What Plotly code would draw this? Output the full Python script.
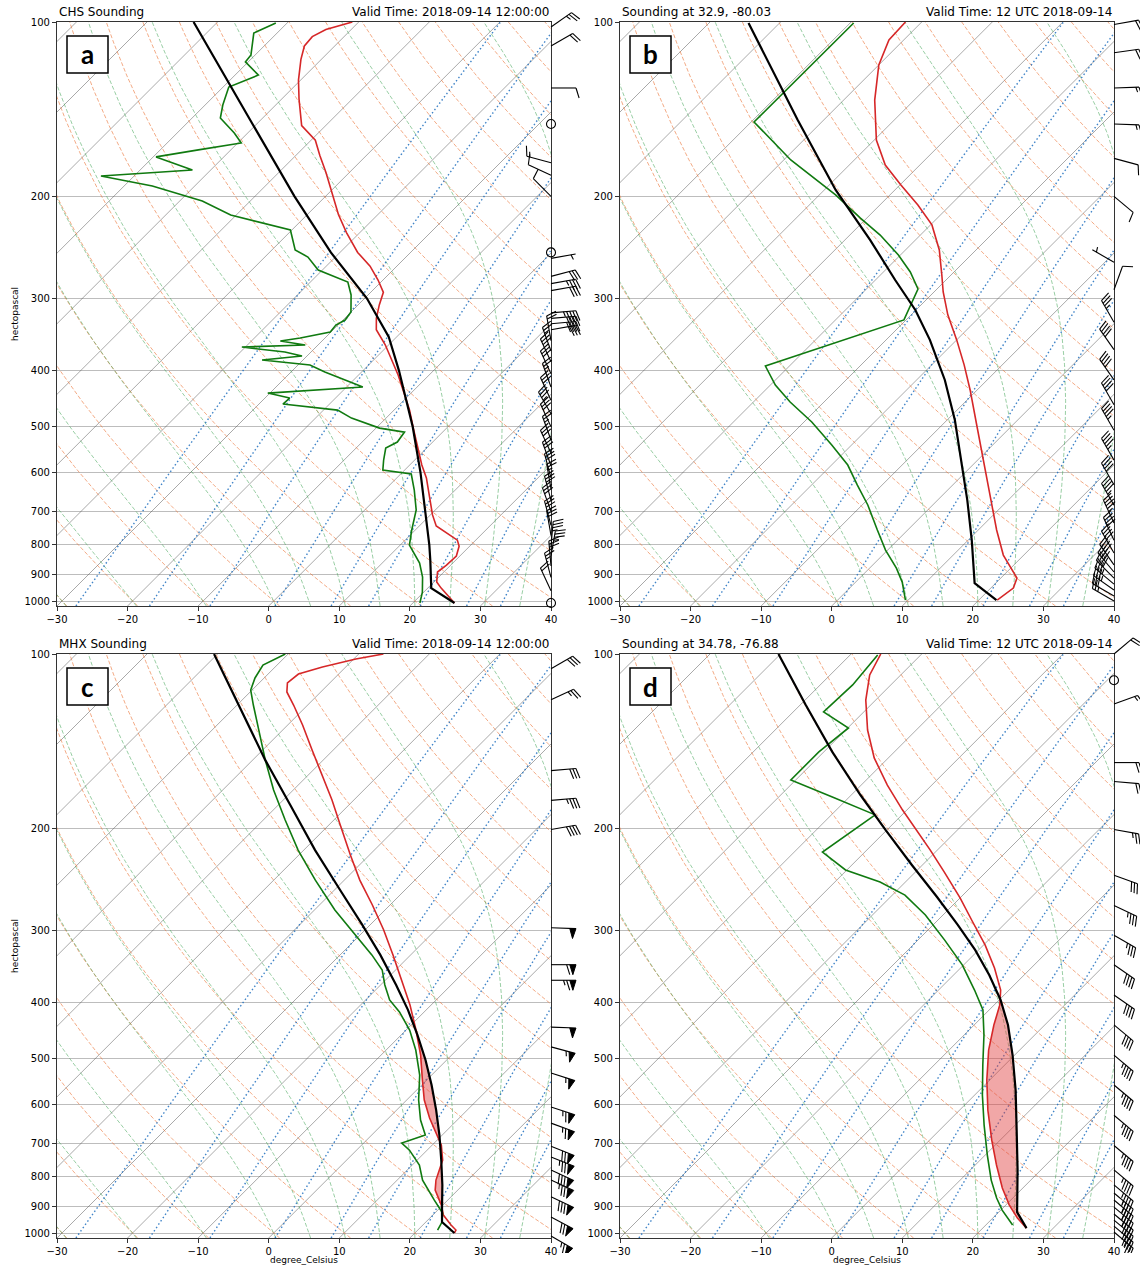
import math
import numpy as np
import plotly.graph_objects as go

# ------------------------------------------------------------------ data
# Panel a: CHS observed sounding (pressure hPa, temperature degC)
a_t_p = [100, 103, 106, 110, 116, 126, 136, 151, 160, 170, 182, 199, 215, 231, 250, 264, 279, 293, 308, 325,
         340, 361, 384, 407, 441, 468, 503, 542, 582, 613, 669, 710, 742, 763, 785, 804, 836, 867, 891, 927,
         950, 1008]
a_t = [-70.9, -73.6, -74.5, -74.3, -72.9, -70.3, -67.5, -63.4, -59.4, -56.6, -53.3, -49.2, -45.6, -41.9, -37.5,
       -33.8, -30.7, -28.2, -27.0, -25.5, -23.9, -20.5, -17.4, -14.4, -10.6, -7.8, -4.7, -1.4, 1.7, 4.2, 7.8,
       10.3, 12.4, 14.8, 17.4, 18.5, 19.5, 19.4, 19.1, 20.4, 21.9, 25.9]
a_td_p = [100.4, 104.5, 114.0, 117.2, 123.5, 129.5, 139.1, 146.5, 155.5, 161.8, 166.3, 171.0, 180.1, 184.5,
          192.0, 199.8, 203.8, 215.4, 228.7, 247.6, 254.6, 268.1, 281.2, 296.1, 316.9, 327.1, 333.7, 343.1,
          351.4, 355.6, 361.3, 364.2, 371.5, 377.5, 383.5, 391.2, 402.3, 426.9, 437.4, 446.1, 456.9, 468.0,
          483.1, 502.8, 506.8, 510.8, 531.5, 544.3, 570.8, 593.9, 603.5, 643.3, 696.4, 754.0, 800.4, 860.0,
          909.1, 965.0, 1008]
a_td = [-81.6, -83.3, -80.6, -80.4, -76.7, -79.2, -77.5, -76.0, -71.9, -69.5, -74.6, -79.6, -72.6, -84.7,
        -76.0, -69.9, -66.8, -60.8, -50.2, -46.7, -43.9, -40.6, -34.7, -32.4, -30.0, -29.7, -30.3, -30.1,
        -33.5, -35.9, -31.8, -40.5, -33.7, -30.7, -35.8, -28.3, -25.2, -17.7, -30.3, -26.5, -26.6, -18.0,
        -14.9, -9.5, -7.5, -5.4, -5.0, -5.8, -4.4, -3.1, 1.5, 4.2, 7.3, 9.5, 11.3, 15.3, 17.7, 19.8, 21.0]
a_prof_p = [100, 125, 150, 200, 250, 300, 350, 400, 500, 600, 700, 800, 850, 900, 950, 1008]
a_prof = [-93.4, -80.9, -70.6, -54.4, -41.3, -29.7, -21.1, -14.9, -5.0, 2.6, 8.8, 14.1, 16.4, 18.5, 20.5, 25.9]
a_barb_p = [102, 110, 130, 150, 175, 184, 200, 250, 256, 275, 283, 291, 318, 325, 332, 340, 355, 370, 386, 405,
            427, 450, 475, 500, 527, 555, 584, 613, 640, 670, 700, 740, 770, 805, 835, 870, 910, 960, 1008]
a_barb_dir = [55, 60, 90, 0, 285, 295, 315, 0, 80, 75, 80, 80, 85, 85, 85, 80, 350, 340, 335, 335,
              340, 335, 330, 335, 340, 335, 340, 345, 350, 345, 340, 345, 350, 5, 10, 355, 345, 335, 0]
a_barb_spd = [25, 20, 10, 0, 15, 10, 10, 0, 5, 30, 35, 30, 45, 40, 40, 30, 20, 25, 30, 30,
              25, 30, 35, 30, 25, 30, 30, 30, 25, 30, 30, 30, 30, 35, 35, 30, 25, 20, 0]

# Panel b: model sounding at 32.9, -80.03
b_t_p = [100, 107.4, 118.6, 136.4, 159.9, 176.6, 191.1, 207.1, 224.1, 247.6, 273.5, 292.6, 320.5, 354.0,
         391.0, 432.0, 496.6, 570.9, 656.0, 754.0, 833.0, 877.4, 912.9, 949.9, 996.1]
b_t = [-72.3, -72.1, -70.0, -65.6, -59.7, -54.9, -49.9, -44.6, -39.8, -35.2, -31.3, -28.7, -24.8, -20.0,
       -15.4, -11.0, -5.1, 0.8, 6.6, 12.6, 17.1, 20.1, 22.3, 23.2, 22.6]
b_td_p = [100.4, 148.8, 173.1, 198.9, 218.1, 233.3, 252.5, 270.2, 289.1, 305.6, 327.0, 392.8, 423.6, 453.2,
          490.7, 537.8, 582.3, 630.6, 682.6, 754.0, 816.6, 877.4, 927.4, 996.1]
b_td = [-79.5, -79.6, -69.0, -57.7, -50.9, -45.7, -40.3, -36.2, -32.7, -31.6, -30.3, -43.4, -39.3, -34.8,
        -28.9, -22.8, -17.7, -13.5, -9.2, -4.3, -0.3, 3.8, 6.6, 9.6]
b_prof_p = [100.4, 147.6, 195.0, 238.0, 279.0, 314.3, 354.0, 415.2, 486.9, 570.9, 669.3, 784.7, 931.1, 996.1]
b_prof = [-94.4, -73.7, -58.4, -46.4, -37.2, -30.1, -23.8, -16.0, -8.9, -2.3, 4.2, 10.5, 17.0, 22.5]
b_barb_p = [101, 113, 130, 150, 172, 200, 260, 290, 330, 368, 415, 458, 507, 571, 630, 683, 733, 785, 826,
            866, 891, 913, 935, 957, 980, 1000]
b_barb_dir = [80, 82, 88, 92, 105, 130, 300, 20, 330, 325, 325, 330, 330, 330, 330, 330, 335, 335, 330,
              325, 320, 315, 310, 305, 300, 300]
b_barb_spd = [20, 20, 15, 15, 10, 10, 5, 10, 35, 40, 40, 40, 45, 45, 40, 45, 45, 40, 40,
              40, 40, 40, 35, 35, 30, 25]

# Panel c: MHX observed sounding
c_t_p = [100, 102.0, 105.3, 108.3, 112.2, 116.3, 122.5, 132.6, 146.5, 161.8, 178.7, 197.3, 222.4, 245.8,
         271.3, 299.4, 330.9, 365.9, 403.8, 446.1, 492.7, 544.3, 589.4, 633.1, 671.9, 705.0, 748.1, 810.3,
         843.1, 894.8, 931.1, 968.8, 988.2, 1000]
c_t = [-66.5, -69.7, -73.3, -75.7, -76.0, -74.8, -72.0, -67.9, -63.0, -58.0, -53.1, -48.4, -42.7, -37.8,
       -32.5, -27.4, -22.5, -17.7, -13.0, -8.6, -4.4, -0.6, 2.5, 5.8, 8.9, 11.3, 13.6, 15.5, 16.8, 19.8,
       21.5, 24.0, 25.4, 25.6]
c_td_p = [100, 104.5, 110.0, 115.4, 122.5, 135.3, 152.5, 171.7, 193.5, 218.1, 245.8, 276.8, 305.6, 330.9,
          351.3, 372.9, 395.8, 415.2, 446.1, 483.0, 533.5, 589.4, 638.1, 677.3, 699.4, 719.3, 762.9, 810.3,
          877.4, 923.7, 957.4, 988.2]
c_td = [-80.4, -82.0, -81.3, -80.2, -77.7, -73.4, -68.2, -62.8, -56.9, -50.8, -44.1, -37.1, -30.7, -25.5,
        -21.9, -19.4, -16.6, -13.5, -9.5, -5.8, -1.7, 1.7, 4.8, 7.6, 5.4, 7.5, 11.0, 13.6, 18.1, 21.1,
        22.3, 22.8]
c_prof_p = [100, 124.9, 152.5, 182.3, 218.1, 255.6, 293.7, 330.9, 372.9, 411.7, 454.9, 502.6, 555.1, 613.3,
            677.3, 748.1, 826.3, 912.9, 957.4, 1000]
c_prof = [-90.5, -78.8, -68.2, -58.3, -48.4, -39.2, -31.1, -24.3, -17.8, -12.6, -7.7, -3.0, 1.4, 5.6, 9.6,
          13.4, 17.1, 20.6, 22.3, 25.6]
c_barb_p = [106, 120, 159, 179, 201, 297, 344, 366, 441, 477, 529, 606, 646, 708, 739, 778, 810, 866, 938, 1012]
c_barb_dir = [60, 65, 85, 85, 80, 92, 90, 90, 92, 105, 108, 108, 110, 112, 112, 115, 115, 115, 118, 120]
c_barb_spd = [30, 25, 30, 35, 40, 50, 60, 65, 50, 55, 55, 65, 65, 70, 75, 80, 75, 80, 70, 65]

# Panel d: model sounding at 34.78, -76.88
d_t_p = [100, 108.7, 120.1, 135.3, 151.2, 168.4, 186.0, 201.3, 218.1, 238.0, 263.8, 290.3, 318.0, 348.5,
         380.5, 403.8, 437.3, 483.0, 544.3, 613.3, 691.0, 762.9, 836.3, 894.8, 942.5, 980.7]
d_t = [-75.8, -74.4, -71.4, -66.9, -62.0, -56.3, -50.6, -45.8, -41.0, -35.9, -30.0, -24.8, -19.8, -15.2,
       -11.2, -9.2, -7.2, -4.4, -0.4, 4.0, 8.8, 13.0, 17.1, 20.5, 23.5, 26.2]
d_td_p = [100.4, 113.1, 125.9, 134.2, 147.6, 165.0, 176.6, 189.6, 219.8, 236.0, 247.6, 260.9, 282.3, 312.0,
          344.3, 380.5, 411.7, 454.9, 512.7, 577.8, 651.1, 733.5, 810.3, 870.0, 912.9, 949.9, 968.8]
d_td = [-76.1, -75.4, -75.7, -69.9, -70.7, -70.7, -62.4, -53.8, -56.0, -50.2, -43.6, -38.2, -32.5, -26.2,
        -20.2, -14.9, -10.9, -7.2, -3.1, 1.1, 5.6, 10.3, 14.4, 17.7, 20.2, 22.6, 23.8]
d_prof_p = [100, 122.5, 147.6, 175.2, 201.3, 231.4, 262.8, 293.7, 324.4, 358.7, 395.8, 437.3, 492.7, 566.4,
            663.8, 778.3, 920.2, 980.7]
d_prof = [-90.3, -79.2, -68.8, -58.7, -50.2, -41.5, -33.4, -26.5, -20.5, -14.9, -9.8, -5.2, -0.3, 5.1, 10.9,
          16.7, 22.6, 26.2]
d_barb_p = [100, 111, 122, 154, 166, 201, 241, 272, 306, 344, 388, 437, 493, 555, 626, 706, 778, 826, 853,
            877, 902, 927, 950, 973, 996]
d_barb_dir = [50, 0, 70, 90, 95, 100, 110, 115, 120, 125, 125, 130, 130, 130, 130, 130, 130, 130, 130,
              130, 130, 130, 130, 130, 130]
d_barb_spd = [20, 0, 15, 20, 20, 25, 30, 35, 35, 40, 40, 40, 45, 45, 45, 45, 45, 45, 45,
              45, 45, 45, 40, 40, 35]

titles_left = ["CHS Sounding", "Sounding at 32.9, -80.03", "MHX Sounding", "Sounding at 34.78, -76.88"]
titles_right = ["Valid Time: 2018-09-14 12:00:00", "Valid Time: 12 UTC 2018-09-14",
                "Valid Time: 2018-09-14 12:00:00", "Valid Time: 12 UTC 2018-09-14"]
panel_letters = ["a", "b", "c", "d"]
x_ticks = [-30, -20, -10, 0, 10, 20, 30, 40]
p_ticks = [100, 200, 300, 400, 500, 600, 700, 800, 900, 1000]
y_label = "hectopascal"
x_label = "degree_Celsius"
mix_ratios = [0.0004, 0.001, 0.002, 0.004, 0.007, 0.01, 0.016, 0.024, 0.032]

panels = [
    dict(t_p=a_t_p, t=a_t, td_p=a_td_p, td=a_td, pr_p=a_prof_p, pr=a_prof,
         bp=a_barb_p, bd=a_barb_dir, bs=a_barb_spd, cape=False),
    dict(t_p=b_t_p, t=b_t, td_p=b_td_p, td=b_td, pr_p=b_prof_p, pr=b_prof,
         bp=b_barb_p, bd=b_barb_dir, bs=b_barb_spd, cape=False),
    dict(t_p=c_t_p, t=c_t, td_p=c_td_p, td=c_td, pr_p=c_prof_p, pr=c_prof,
         bp=c_barb_p, bd=c_barb_dir, bs=c_barb_spd, cape=True),
    dict(t_p=d_t_p, t=d_t, td_p=d_td_p, td=d_td, pr_p=d_prof_p, pr=d_prof,
         bp=d_barb_p, bd=d_barb_dir, bs=d_barb_spd, cape=True),
]

# ------------------------------------------------------------------ geometry
FIG_W, FIG_H = 1140, 1270
PW, PH = 494, 584
ORIGINS = [(57, 22), (620, 22), (57, 654), (620, 654)]
P_BOT, P_TOP = 1020.0, 100.0
T_MIN, T_MAX = -30.0, 40.0
LB, LT = math.log10(P_BOT), math.log10(P_TOP)
PX_PER_DEC = PH / (LB - LT)
PX_PER_C = PW / (T_MAX - T_MIN)
SKEW = PX_PER_DEC / PX_PER_C  # isotherms at 45 degrees on screen
FONT = "DejaVu Sans"


def skew_x(t, p):
    return np.asarray(t, float) + SKEW * (LB - np.log10(np.asarray(p, float)))


def join(lines):
    xs, ys = [], []
    for x, y in lines:
        xs += list(np.asarray(x, float)) + [None]
        ys += list(np.asarray(y, float)) + [None]
    return xs, ys


# ------------------------------------------------------------------ reference lines
p_line = np.logspace(LB, LT, 160)
iso_lines = [(skew_x([t, t], [P_BOT, P_TOP]), [P_BOT, P_TOP]) for t in range(-150, 50, 10)]
dry_lines = [(skew_x((t0 + 273.15) * (p_line / 1000.0) ** 0.2857 - 273.15, p_line), p_line)
             for t0 in range(-30, 260, 10)]

Rd, Cp, Lv, EPS = 287.04, 1005.7, 2.501e6, 0.622


def dT_dlnp(p, T):
    es = 6.112 * math.exp(17.67 * (T - 273.15) / (T - 29.65))
    rs = EPS * es / (p - es)
    return (Rd * T + Lv * rs) / (Cp + Lv * Lv * rs * EPS / (Rd * T * T))


def integ(t0, ps):
    T = t0 + 273.15
    out = [T]
    for k in range(1, len(ps)):
        l0, l1 = math.log(ps[k - 1]), math.log(ps[k])
        h = l1 - l0
        k1 = dT_dlnp(math.exp(l0), T)
        k2 = dT_dlnp(math.exp(l0 + h / 2), T + h * k1 / 2)
        k3 = dT_dlnp(math.exp(l0 + h / 2), T + h * k2 / 2)
        k4 = dT_dlnp(math.exp(l1), T + h * k3)
        T = T + h * (k1 + 2 * k2 + 2 * k3 + k4) / 6
        out.append(T)
    return np.array(out)


moist_lines = []
up = np.logspace(3.0, LT, 160)
dn = np.logspace(3.0, LB, 8)
for t0 in [-30, -20, -10] + list(range(0, 55, 5)):
    tu = integ(t0, up)
    tdn = integ(t0, dn)
    pp = np.concatenate([dn[::-1], up[1:]])
    tt = np.concatenate([tdn[::-1], tu[1:]]) - 273.15
    moist_lines.append((skew_x(tt, pp), pp))

mix_lines = []
for w in mix_ratios:
    e = p_line * w / (EPS + w)
    ln = np.log(e / 6.112)
    tdw = 243.5 * ln / (17.67 - ln)
    mix_lines.append((skew_x(tdw, p_line), p_line))

ISO = join(iso_lines)
DRY = join(dry_lines)
MOIST = join(moist_lines)
MIX = join(mix_lines)


def cape_fill(prof_p, prof_t, env_p, env_t):
    lo = max(min(prof_p), min(env_p))
    hi = min(max(prof_p), max(env_p))
    lp = np.linspace(math.log10(lo), math.log10(hi), 900)
    pp = 10 ** lp
    tp = np.interp(lp, np.log10(prof_p), prof_t)
    te = np.interp(lp, np.log10(env_p), env_t)
    pos = tp > te
    xs, ys = [], []
    i = 0
    n = len(pp)
    while i < n:
        if pos[i]:
            j = i
            while j + 1 < n and pos[j + 1]:
                j += 1
            if j - i > 3:
                s = slice(i, j + 1)
                xs += list(skew_x(tp[s], pp[s])) + list(skew_x(te[s], pp[s])[::-1]) + [None]
                ys += list(pp[s]) + list(pp[s][::-1]) + [None]
            i = j + 1
        else:
            i += 1
    return xs, ys


def barb_paths(ps, dirs, spds, L=25.0):
    lx, ly, fx, fy, cx, cy = [], [], [], [], [], []
    h, fw, sp = 0.4 * L, 0.25 * L, 0.125 * L
    for p, d, s in zip(ps, dirs, spds):
        s5 = int(round(s / 5.0)) * 5
        if s5 == 0:
            cx.append(0.0)
            cy.append(p)
            continue
        r = math.radians(d)
        ux, uy = math.sin(r), math.cos(r)
        vx, vy = uy, -ux

        def pt(a, b):
            dx = a * ux + b * vx
            dy = a * uy + b * vy
            return dx, p * 10 ** (-dy / PX_PER_DEC)

        for q in (pt(0, 0), pt(L, 0)):
            lx.append(q[0]); ly.append(q[1])
        lx.append(None); ly.append(None)
        nflag = s5 // 50
        nfull = (s5 % 50) // 10
        half = (s5 % 10) >= 5
        off = L
        for _ in range(nflag):
            if off != L:
                off += sp / 2
            for q in (pt(off, 0), pt(off - fw / 2, h), pt(off - fw, 0)):
                fx.append(q[0]); fy.append(q[1])
            fx.append(None); fy.append(None)
            off -= fw + sp
        for _ in range(nfull):
            for q in (pt(off, 0), pt(off + fw / 2, h)):
                lx.append(q[0]); ly.append(q[1])
            lx.append(None); ly.append(None)
            off -= sp
        if half:
            if off == L:
                off -= 1.5 * sp
            for q in (pt(off, 0), pt(off + fw / 4, h / 2)):
                lx.append(q[0]); ly.append(q[1])
            lx.append(None); ly.append(None)
    return lx, ly, fx, fy, cx, cy


# ------------------------------------------------------------------ figure
fig = go.Figure()
layout = dict(template="none", width=FIG_W, height=FIG_H,
              margin=dict(l=0, r=0, t=0, b=0, pad=0, autoexpand=False),
              paper_bgcolor="white", plot_bgcolor="rgba(0,0,0,0)", showlegend=False,
              font=dict(family=FONT, size=10, color="black"))
annotations = []
shapes = []

for i, (ox, oy) in enumerate(ORIGINS):
    n = i + 1
    xa = "x" if n == 1 else f"x{n}"
    ya = "y" if n == 1 else f"y{n}"
    pdat = panels[i]

    def add(x, y, **kw):
        fig.add_trace(go.Scatter(x=x, y=y, xaxis=xa, yaxis=ya, mode="lines", hoverinfo="skip", **kw))

    add(ISO[0], ISO[1], line=dict(color="rgba(80,80,80,0.55)", width=0.9))
    add(DRY[0], DRY[1], line=dict(color="rgba(235,120,60,0.62)", width=1, dash="4px,2px"))
    add(MOIST[0], MOIST[1], line=dict(color="rgba(70,165,90,0.55)", width=1, dash="4px,2px"))
    add(MIX[0], MIX[1], line=dict(color="rgba(31,110,190,0.85)", width=1.4, dash="1.5px,2.5px"))
    if pdat["cape"]:
        cxs, cys = cape_fill(pdat["pr_p"], pdat["pr"], pdat["t_p"], pdat["t"])
        add(cxs, cys, fill="toself", fillcolor="rgba(225,60,60,0.45)", line=dict(width=0))
    add(skew_x(pdat["t"], pdat["t_p"]), pdat["t_p"], line=dict(color="#d62728", width=1.6))
    add(skew_x(pdat["td"], pdat["td_p"]), pdat["td_p"], line=dict(color="#107a10", width=1.6))
    add(skew_x(pdat["pr"], pdat["pr_p"]), pdat["pr_p"], line=dict(color="black", width=2.2))

    layout["xaxis" if n == 1 else f"xaxis{n}"] = dict(
        domain=[ox / FIG_W, (ox + PW) / FIG_W], range=[T_MIN, T_MAX], tickvals=x_ticks,
        ticks="outside", ticklen=4, tickwidth=1, tickcolor="#333", showline=True, mirror=True,
        linecolor="#333", linewidth=1.2, showgrid=False, zeroline=False, anchor=ya,
        automargin=False, tickfont=dict(size=10, family=FONT, color="black"), fixedrange=True)
    layout["yaxis" if n == 1 else f"yaxis{n}"] = dict(
        domain=[1 - (oy + PH) / FIG_H, 1 - oy / FIG_H], type="log", range=[LB, LT],
        tickvals=p_ticks, ticktext=[str(v) for v in p_ticks], ticks="outside", ticklen=4,
        tickwidth=1, tickcolor="#333", showline=True, mirror=True, linecolor="#333", linewidth=1.2,
        showgrid=True, gridcolor="#bdbdbd", gridwidth=1, zeroline=False, anchor=xa,
        automargin=False, tickfont=dict(size=10, family=FONT, color="black"), fixedrange=True)

    # wind barbs on an overlay subplot (1 unit = 1 px horizontally)
    nb = i + 5
    R = ox + PW
    left, right = R - 45, min(FIG_W, R + 40)
    top_ext, bot_ext = min(20, oy), 15
    layout[f"xaxis{nb}"] = dict(domain=[left / FIG_W, right / FIG_W], range=[left - R, right - R],
                                visible=False, fixedrange=True, anchor=f"y{nb}", automargin=False)
    layout[f"yaxis{nb}"] = dict(domain=[1 - (oy + PH + bot_ext) / FIG_H, 1 - (oy - top_ext) / FIG_H],
                                type="log",
                                range=[LB + bot_ext / PX_PER_DEC, LT - top_ext / PX_PER_DEC],
                                visible=False, fixedrange=True, anchor=f"x{nb}", automargin=False)
    lx, ly, fx, fy, cx, cy = barb_paths(pdat["bp"], pdat["bd"], pdat["bs"])
    fig.add_trace(go.Scatter(x=lx, y=ly, xaxis=f"x{nb}", yaxis=f"y{nb}", mode="lines",
                             line=dict(color="black", width=1.1), hoverinfo="skip"))
    if fx:
        fig.add_trace(go.Scatter(x=fx, y=fy, xaxis=f"x{nb}", yaxis=f"y{nb}", mode="lines",
                                 fill="toself", fillcolor="black", line=dict(color="black", width=1),
                                 hoverinfo="skip"))
    if cx:
        fig.add_trace(go.Scatter(x=cx, y=cy, xaxis=f"x{nb}", yaxis=f"y{nb}", mode="markers",
                                 marker=dict(symbol="circle-open", size=9, color="black",
                                             line=dict(width=1.1)), hoverinfo="skip"))

    # titles
    annotations.append(dict(text=titles_left[i], x=ox / FIG_W, y=1 - (oy - 1) / FIG_H, xref="paper",
                            yref="paper", xanchor="left", yanchor="bottom", showarrow=False,
                            font=dict(size=12, family=FONT, color="black")))
    annotations.append(dict(text=titles_right[i], x=(ox + PW) / FIG_W, y=1 - (oy - 1) / FIG_H,
                            xref="paper", yref="paper", xanchor="right", yanchor="bottom",
                            showarrow=False, font=dict(size=12, family=FONT, color="black")))
    # panel letter box
    bx0, by0 = ox + 10, oy + 14
    shapes.append(dict(type="rect", xref="paper", yref="paper", x0=bx0 / FIG_W, x1=(bx0 + 41) / FIG_W,
                       y0=1 - (by0 + 37) / FIG_H, y1=1 - by0 / FIG_H,
                       line=dict(color="black", width=1.5), fillcolor="white", layer="above"))
    annotations.append(dict(text="<b>" + panel_letters[i] + "</b>", x=(bx0 + 20.5) / FIG_W,
                            y=1 - (by0 + 18.5) / FIG_H, xref="paper", yref="paper",
                            xanchor="center", yanchor="middle", showarrow=False,
                            font=dict(size=26, family="Lato", color="black")))
    if i in (0, 2):
        annotations.append(dict(text=y_label, x=15 / FIG_W, y=1 - (oy + PH / 2) / FIG_H,
                                xref="paper", yref="paper", xanchor="center", yanchor="middle",
                                textangle=-90, showarrow=False,
                                font=dict(size=9, family=FONT, color="black")))
    if i in (2, 3):
        annotations.append(dict(text=x_label, x=(ox + PW / 2) / FIG_W, y=1 - 1260 / FIG_H,
                                xref="paper", yref="paper", xanchor="center", yanchor="middle",
                                showarrow=False, font=dict(size=9, family=FONT, color="black")))

layout["annotations"] = annotations
layout["shapes"] = shapes
fig.update_layout(**layout)
# remove the browser's default 8 px page margin so the figure sits at the window origin
fig.write_html("out.html", config={"displayModeBar": False},
               post_script="document.body.style.margin='0px';")
